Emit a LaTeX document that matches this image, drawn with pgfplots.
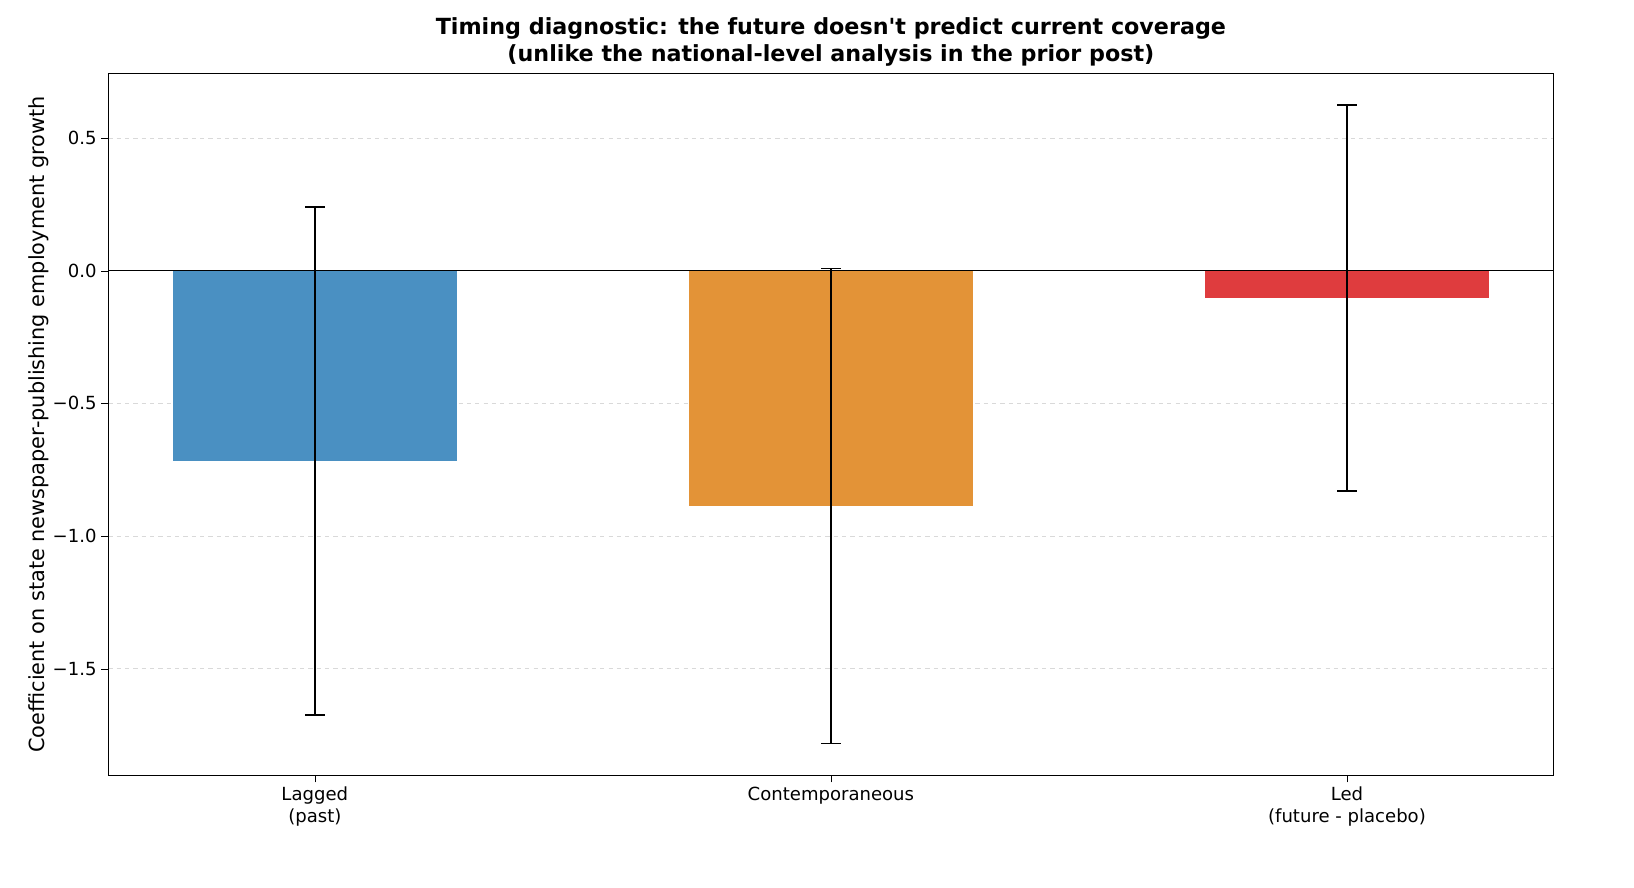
\documentclass[border=0pt]{standalone}
\usepackage{pgfplots}
\pgfplotsset{compat=1.18}
\usepackage{fontspec}
\setmainfont{DejaVu Sans}
\definecolor{cblue}{HTML}{4A90C2}
\definecolor{corange}{HTML}{E39337}
\definecolor{cred}{HTML}{DF3C3E}
\begin{document}
\begin{tikzpicture}
\begin{axis}[
  scale only axis, width=1040pt, height=505pt,
  xmin=-0.4, xmax=2.4, ymin=-1.902, ymax=0.743,
  xtick={0,1,2},
  xticklabels={{Lagged\\(past)},{Contemporaneous},{Led\\(future - placebo)}},
  xticklabel style={align=center, font=\fontsize{13}{15.5}\selectfont},
  yticklabel style={font=\fontsize{13}{15}\selectfont},
  ytick={-1.5,-1,-0.5,0,0.5},
  yticklabels={$-$1.0,$-$1.0,$-$0.5,0.0,0.5},
  yticklabels={{\char"2212}1.5,{\char"2212}1.0,{\char"2212}0.5,0.0,0.5},
  xtick pos=bottom, ytick pos=left,
  ymajorgrids, grid style={dashed, gray!30},
  tick align=outside, tick style={black}, major tick length=5pt,
  ylabel={Coefficient on state newspaper-publishing employment growth},
  ylabel style={font=\fontsize{15}{17}\selectfont, yshift=-4pt},
  title={Timing diagnostic: the future doesn\textquotesingle t predict current coverage\\(unlike the national-level analysis in the prior post)},
  title style={font=\bfseries\fontsize{16}{19}\selectfont, align=center, yshift=-4pt},
  ybar, bar width=0.55, bar shift=0pt,
  axis line style={black},
]
\addplot[fill=cblue, draw=none, error bars/.cd, y dir=both, y explicit,
  error bar style={line width=1.2pt, black}, error mark options={rotate=90, mark size=7pt, line width=1.2pt, black}]
  coordinates {(0,-0.717) +- (0,0.957)};
\addplot[fill=corange, draw=none, error bars/.cd, y dir=both, y explicit,
  error bar style={line width=1.2pt, black}, error mark options={rotate=90, mark size=7pt, line width=1.2pt, black}]
  coordinates {(1,-0.887) +- (0,0.895)};
\addplot[fill=cred, draw=none, error bars/.cd, y dir=both, y explicit,
  error bar style={line width=1.2pt, black}, error mark options={rotate=90, mark size=7pt, line width=1.2pt, black}]
  coordinates {(2,-0.102) +- (0,0.728)};
\draw[black, line width=0.8pt] (axis cs:-0.4,0) -- (axis cs:2.4,0);
\end{axis}
\pgfresetboundingbox
\useasboundingbox ([xshift=-78pt,yshift=-81pt]current axis.south west) rectangle ([xshift=58pt,yshift=53pt]current axis.north east);
\end{tikzpicture}
\end{document}
